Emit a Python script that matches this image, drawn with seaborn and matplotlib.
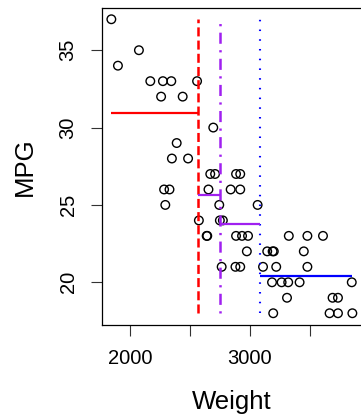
import matplotlib
matplotlib.use("Agg")
import matplotlib.pyplot as plt
import seaborn as sns
import pandas as pd

# ---- data ----
weight = [1845, 1900, 2075, 2170, 2260, 2275, 2285, 2295, 2330, 2345, 2350, 2390, 2440, 2485, 2560,
          2575, 2640, 2645, 2655, 2670, 2695, 2710, 2745,
          2750, 2765, 2775, 2840, 2880, 2885, 2885, 2920, 2920, 2920, 2935, 2975, 2985, 3065,
          3110, 3145, 3185, 3190, 3195, 3200, 3220, 3265, 3310, 3320, 3325, 3415, 3450, 3480,
          3480, 3610, 3665, 3690, 3735, 3735, 3850, 3855]
mpg = [37, 34, 35, 33, 32, 33, 26, 25, 26, 33, 28, 29, 32, 28, 33,
       24, 23, 23, 26, 27, 30, 27, 25,
       24, 21, 24, 26, 21, 27, 23, 21, 27, 26, 23, 22, 23, 25,
       21, 22, 20, 22, 18, 22, 21, 20, 19, 20, 23, 20, 22, 21,
       23, 23, 18, 19, 18, 19, 20, 18]

split_weights = [2567.5, 2747.5, 3087.5]
split_colors = ["#FF0000", "#A020F0", "#0000FF"]
split_widths = [1.8, 1.8, 1.5]
# dash patterns in points (divided by line width below since matplotlib scales them)
split_dashes = [(6.5, 3.0), (1.6, 4.6, 8.0, 4.6), (1.1, 5.9)]

leaf_left = [1845, 2567.5, 2747.5, 3087.5]
leaf_right = [2567.5, 2747.5, 3087.5, 3855]
leaf_mpg = [30.93, 25.63, 23.79, 20.41]
leaf_colors = ["#FF0000", "#A020F0", "#A020F0", "#0000FF"]

x_ticks = [2000, 2500, 3000, 3500]
x_tick_labels = ["2000", "", "3000", ""]
y_ticks = [20, 25, 30, 35]
y_tick_labels = ["20", "25", "30", "35"]

sns.set_style("ticks")
plt.rcParams['font.family'] = ['Liberation Sans', 'DejaVu Sans']
plt.rcParams['text.color'] = 'black'
plt.rcParams['axes.labelcolor'] = 'black'

W, H = 361, 416
fig = plt.figure(figsize=(W / 100, H / 100), dpi=100)
left, right, top, bottom = 101.7, 362.0, 7.5, 325.0
ax = fig.add_axes([left / W, 1 - bottom / H, (right - left) / W, (bottom - top) / H])

df = pd.DataFrame({"Weight": weight, "MPG": mpg})
sns.scatterplot(data=df, x="Weight", y="MPG", ax=ax, marker="o", s=38,
                facecolor="none", edgecolor="black", linewidth=1.0, zorder=2)

for xv, c, d, lw in zip(split_weights, split_colors, split_dashes, split_widths):
    pattern = tuple(v / lw for v in d)
    ax.vlines(xv, min(mpg), max(mpg), colors=c, linestyles=[(0, pattern)],
              linewidth=lw, zorder=3)

for x0, x1, yv, c in zip(leaf_left, leaf_right, leaf_mpg, leaf_colors):
    ax.hlines(yv, x0, x1, colors=c, linewidth=1.6, zorder=3)

ax.set_xlim(1764.6, 3935.4)
ax.set_ylim(17.24, 37.76)
ax.set_xticks(x_ticks)
ax.set_xticklabels(x_tick_labels)
ax.set_yticks(y_ticks)
ax.set_yticklabels(y_tick_labels, rotation=90, va="center")

for s in ax.spines.values():
    s.set_visible(True)
    s.set_color("black")
    s.set_linewidth(0.9)

ax.tick_params(axis="both", direction="out", length=7.8, width=0.8, color="#333333",
               labelsize=14.5, pad=9.5, labelcolor="black")
ax.set_xlabel("Weight", fontsize=18.5, labelpad=16, color="black")
ax.set_ylabel("MPG", fontsize=18.5, labelpad=16, color="black")

fig.savefig("out.png", dpi=100)
